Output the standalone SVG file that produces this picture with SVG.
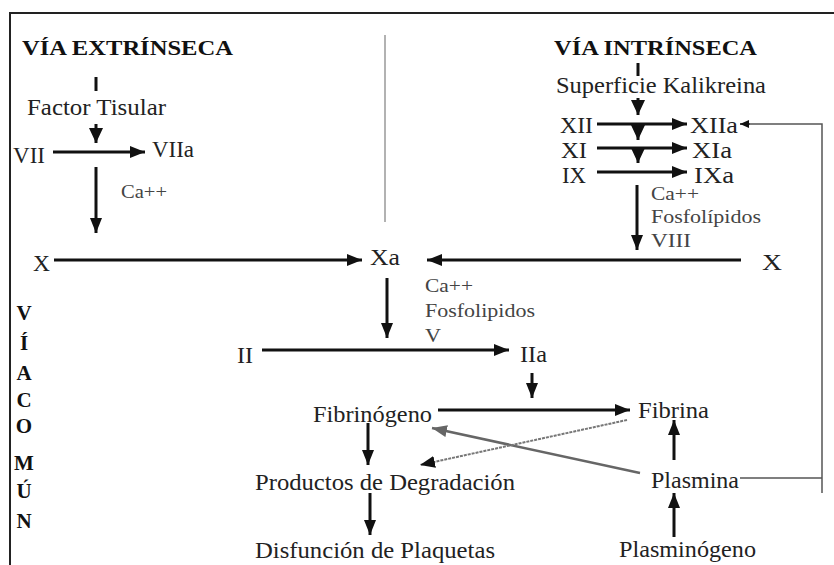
<svg xmlns="http://www.w3.org/2000/svg" width="834" height="565" viewBox="0 0 834 565">
<defs>
<marker id="ah" markerUnits="userSpaceOnUse" markerWidth="15" markerHeight="12" refX="15" refY="6" orient="auto"><path d="M0,0 L15,6 L0,12 z" fill="#111"/></marker>
<marker id="ahs" markerUnits="userSpaceOnUse" markerWidth="15" markerHeight="14" refX="15" refY="7" orient="auto"><path d="M0,0 L15,7 L0,14 z" fill="#111"/></marker>
<marker id="ahg" markerUnits="userSpaceOnUse" markerWidth="15" markerHeight="12" refX="15" refY="6" orient="auto"><path d="M0,0 L15,6 L0,12 z" fill="#666"/></marker>
<marker id="ahd" markerUnits="userSpaceOnUse" markerWidth="15" markerHeight="12" refX="15" refY="6" orient="auto"><path d="M0,0 L15,6 L0,12 z" fill="#111"/></marker>
<marker id="aht" markerUnits="userSpaceOnUse" markerWidth="9" markerHeight="8" refX="9" refY="4" orient="auto"><path d="M0,0 L9,4 L0,8 z" fill="#111"/></marker>
</defs>
<style>
text{font-family:"Liberation Serif","Times New Roman",serif;fill:#222;font-size:24px}
.h{font-weight:bold;font-size:22px;fill:#111}
.s{font-size:19px;fill:#444}
.v{font-weight:bold;font-size:21px;fill:#111;text-anchor:middle}
.a{stroke:#111;stroke-width:3;fill:none;marker-end:url(#ah)}
.t{stroke:#111;stroke-width:3;fill:none;marker-end:url(#ahs)}
.g{stroke:#666;stroke-width:2.5;fill:none;marker-end:url(#ahg)}
.d{stroke:#777;stroke-width:2;stroke-dasharray:3 1;fill:none;marker-end:url(#ahd)}
.f{stroke:#555;stroke-width:1.5;fill:none}
.bar{stroke:#111;stroke-width:3}
</style>
<rect width="834" height="565" fill="#fff"/>
<g id="frame">
<path d="M9,13 H834 M10,13 V565" stroke="#222" stroke-width="2" fill="none"/>
<line x1="385" y1="35" x2="385" y2="222" stroke="#999" stroke-width="1.5"/>
</g>
<g id="via-extrinseca"><text class="h" x="22" y="55" textLength="211" lengthAdjust="spacingAndGlyphs">VÍA EXTRÍNSECA</text></g>
<g id="via-intrinseca"><text class="h" x="554" y="55" textLength="203" lengthAdjust="spacingAndGlyphs">VÍA INTRÍNSECA</text></g>
<g id="via-comun">
<text class="v" x="24" y="320">V</text>
<text class="v" x="24" y="350">Í</text>
<text class="v" x="24" y="380">A</text>
<text class="v" x="24" y="407">C</text>
<text class="v" x="24" y="433">O</text>
<text class="v" x="24" y="470">M</text>
<text class="v" x="24" y="498">Ú</text>
<text class="v" x="24" y="528">N</text>
</g>
<g id="factor-tisular"><text x="27" y="115" textLength="139" lengthAdjust="spacingAndGlyphs">Factor Tisular</text></g>
<g id="vii"><text x="13" y="163" textLength="32" lengthAdjust="spacingAndGlyphs">VII</text></g>
<g id="viia"><text x="152" y="157" textLength="42" lengthAdjust="spacingAndGlyphs">VIIa</text></g>
<g id="ca-ext"><text class="s" x="121" y="198" textLength="46" lengthAdjust="spacingAndGlyphs">Ca++</text></g>
<g id="x-left"><text x="33" y="271" textLength="17" lengthAdjust="spacingAndGlyphs">X</text></g>
<g id="xa"><text x="370" y="265" textLength="30" lengthAdjust="spacingAndGlyphs">Xa</text></g>
<g id="superficie"><text x="556" y="93" textLength="210" lengthAdjust="spacingAndGlyphs">Superficie Kalikreina</text></g>
<g id="xii"><text x="560" y="133" textLength="33" lengthAdjust="spacingAndGlyphs">XII</text></g>
<g id="xiia"><text x="690" y="133" textLength="48" lengthAdjust="spacingAndGlyphs">XIIa</text></g>
<g id="xi"><text x="561" y="158" textLength="26" lengthAdjust="spacingAndGlyphs">XI</text></g>
<g id="xia"><text x="692" y="158" textLength="40" lengthAdjust="spacingAndGlyphs">XIa</text></g>
<g id="ix"><text x="562" y="183" textLength="24" lengthAdjust="spacingAndGlyphs">IX</text></g>
<g id="ixa"><text x="694" y="183" textLength="40" lengthAdjust="spacingAndGlyphs">IXa</text></g>
<g id="cofactores-int">
<text class="s" x="651" y="200" textLength="48" lengthAdjust="spacingAndGlyphs">Ca++</text>
<text class="s" x="651" y="223" textLength="110" lengthAdjust="spacingAndGlyphs">Fosfolípidos</text>
<text class="s" x="651" y="247" textLength="40" lengthAdjust="spacingAndGlyphs">VIII</text>
</g>
<g id="x-right"><text x="762" y="270" textLength="20" lengthAdjust="spacingAndGlyphs">X</text></g>
<g id="cofactores-comun">
<text class="s" x="425" y="292" textLength="48" lengthAdjust="spacingAndGlyphs">Ca++</text>
<text class="s" x="425" y="317" textLength="110" lengthAdjust="spacingAndGlyphs">Fosfolipidos</text>
<text class="s" x="425" y="342" textLength="16" lengthAdjust="spacingAndGlyphs">V</text>
</g>
<g id="ii"><text x="237" y="363" textLength="16" lengthAdjust="spacingAndGlyphs">II</text></g>
<g id="iia"><text x="520" y="362" textLength="27" lengthAdjust="spacingAndGlyphs">IIa</text></g>
<g id="fibrinogeno"><text x="313" y="422" textLength="119" lengthAdjust="spacingAndGlyphs">Fibrinógeno</text></g>
<g id="fibrina"><text x="638" y="418" textLength="71" lengthAdjust="spacingAndGlyphs">Fibrina</text></g>
<g id="productos"><text x="255" y="490" textLength="260" lengthAdjust="spacingAndGlyphs">Productos de Degradación</text></g>
<g id="plasmina"><text x="651" y="488" textLength="88" lengthAdjust="spacingAndGlyphs">Plasmina</text></g>
<g id="disfuncion"><text x="255" y="558" textLength="240" lengthAdjust="spacingAndGlyphs">Disfunción de Plaquetas</text></g>
<g id="plasminogeno"><text x="619" y="557" textLength="137" lengthAdjust="spacingAndGlyphs">Plasminógeno</text></g>
<g id="connectors">
<line class="bar" x1="96" y1="77" x2="96" y2="91"/>
<line class="bar" x1="638" y1="63" x2="638" y2="76" stroke-width="2.5"/>
<line class="t" x1="96" y1="124" x2="96" y2="143"/>
<line class="a" x1="53" y1="152" x2="145" y2="152"/>
<line class="a" x1="96" y1="167" x2="96" y2="233"/>
<line class="a" x1="54" y1="260" x2="362" y2="260"/>
<line class="t" x1="638" y1="98" x2="638" y2="115"/>
<line class="a" x1="597" y1="124" x2="687" y2="124"/>
<line class="t" x1="638" y1="124" x2="638" y2="140"/>
<line class="a" x1="597" y1="148" x2="687" y2="148"/>
<line class="t" x1="638" y1="148" x2="638" y2="163"/>
<line class="a" x1="597" y1="172" x2="687" y2="172"/>
<line class="a" x1="637" y1="185" x2="637" y2="250"/>
<line class="a" x1="741" y1="260" x2="427" y2="260"/>
<line class="a" x1="387" y1="278" x2="387" y2="338"/>
<line class="a" x1="262" y1="350" x2="509" y2="350"/>
<line class="a" x1="532" y1="373" x2="532" y2="398"/>
<line class="a" x1="438" y1="410" x2="630" y2="410"/>
<line class="a" x1="368" y1="423" x2="368" y2="465"/>
<line class="a" x1="370" y1="493" x2="370" y2="535"/>
<line class="a" x1="674" y1="460" x2="674" y2="420"/>
<line class="a" x1="674" y1="537" x2="674" y2="493"/>
<line class="g" x1="640" y1="473" x2="432" y2="428"/>
<line class="d" x1="627" y1="420" x2="420" y2="465"/>
<path class="f" d="M740,478 H822 M822,493 V124 H750"/>
<line x1="750" y1="124" x2="740" y2="124" stroke="#111" stroke-width="1.5" marker-end="url(#aht)"/>
</g>
</svg>
